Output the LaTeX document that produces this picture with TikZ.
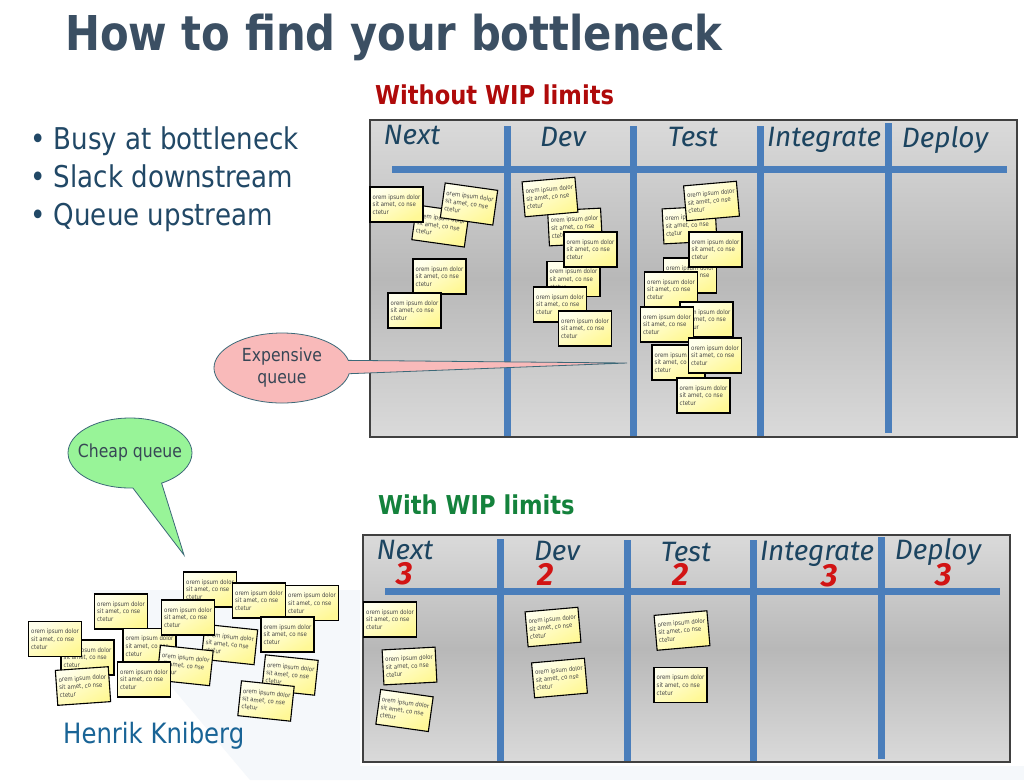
\documentclass[tikz,border=0pt]{standalone}
\usepackage{fontspec}
\usetikzlibrary{shapes.callouts,shapes.geometric}

\newfontfamily\tahoma{DejaVu Sans}[FakeStretch=0.87]
\newfontfamily\hand{Fira Sans}

\definecolor{titlegray}{RGB}{59,79,99}
\definecolor{bulletblue}{RGB}{33,72,102}
\definecolor{authorblue}{RGB}{25,100,150}
\definecolor{withoutred}{RGB}{175,10,10}
\definecolor{withgreen}{RGB}{20,130,60}
\definecolor{boardlight}{RGB}{218,218,218}
\definecolor{boarddark}{RGB}{184,184,184}
\definecolor{lineblue}{RGB}{74,126,187}
\definecolor{headblue}{RGB}{28,68,96}
\definecolor{limitred}{RGB}{210,20,20}
\definecolor{notelight}{RGB}{255,255,236}
\definecolor{notedark}{RGB}{255,248,150}
\definecolor{notetext}{RGB}{70,70,70}
\definecolor{pinkq}{RGB}{249,186,186}
\definecolor{greenq}{RGB}{152,244,152}
\definecolor{calloutedge}{RGB}{60,105,120}
\definecolor{callouttext}{RGB}{55,70,85}
\definecolor{swoosh}{RGB}{245,248,251}

\newcommand{\loremtxt}{orem ipsum dolor\\sit amet, co nse\\ctetur}

\tikzset{
  note/.style={draw=black, line width=1.1pt, top color=notelight, bottom color=notedark,
    shading angle=30, minimum width=53pt, minimum height=35pt,
    inner sep=2.5pt, align=left, font=\tahoma\fontsize{6.2}{7.8}\selectfont, text=notetext},
  board/.style={top color=boardlight, bottom color=boardlight, middle color=boarddark},
  boardedge/.style={draw=black!75, line width=1.2pt},
  lane/.style={lineblue, line width=7pt},
  colhead/.style={font=\hand\itshape\fontsize{28}{28}\selectfont, text=headblue, inner sep=0pt},
  limit/.style={font=\hand\bfseries\itshape\fontsize{32}{32}\selectfont, text=limitred, inner sep=0pt},
  bubble/.style={ellipse callout, draw=calloutedge, line width=0.8pt, minimum width=136pt,
    minimum height=70pt, inner sep=0pt, align=center,
    font=\tahoma\fontsize{18}{22}\selectfont, text=callouttext},
  bullet/.style={anchor=base west, inner sep=0pt, font=\tahoma\fontsize{30}{30}\selectfont, text=bulletblue},
}

\begin{document}
\begin{tikzpicture}[x=1pt, y=-1pt]

% Page and background
\fill[white] (0,0) rectangle (1024,780);
\useasboundingbox (0,0) rectangle (1024,780);
\fill[swoosh] (90,590) -- (360,590) -- (360,780) -- (250,780) -- cycle;
\fill[swoosh] (360,766) rectangle (1024,780);

% Title and bullets
\node[anchor=base west, inner sep=0pt, font=\tahoma\bfseries\fontsize{48}{48}\selectfont, text=titlegray]
  (title) at (65,50) {How to find your bottleneck};
\node[bullet] (busy) at (30,149) {• Busy at bottleneck};
\node[bullet] (slack) at (30,187) {• Slack downstream};
\node[bullet] (queue) at (30,225) {• Queue upstream};

% Board without WIP limits
\node[anchor=base west, inner sep=0pt, font=\tahoma\bfseries\fontsize{26}{26}\selectfont, text=withoutred]
  (without) at (375,104) {Without WIP limits};
\path[board] (370,120) rectangle (1017,437);
\draw[lane] (392,169) -- (1007,169);
\draw[lane] (507,126) -- (507,437);
\draw[lane] (633,126) -- (633,437);
\draw[lane] (760,126) -- (760,437);
\draw[lane] (888,123) -- (888,433);
\draw[boardedge] (370,120) rectangle (1017,437);

\node[colhead] (tnext) at (412,135) {Next};
\node[colhead] (tdev) at (563,137) {Dev};
\node[colhead] (ttest) at (693,137) {Test};
\node[colhead] (tint) at (824,140) {Integrate};
\node[colhead] (tdep) at (945,140) {Deploy};

% Next column
\node[note, rotate=-8] (t2) at (440.5,226) {\loremtxt};
\node[note] (t1) at (396.5,204.5) {\loremtxt};
\node[note, rotate=-8] (t3) at (469,204) {\loremtxt};
\node[note] (t4) at (439.5,276.5) {\loremtxt};
\node[note] (t5) at (414.5,310.5) {\loremtxt};
% Dev column
\node[note, rotate=3] (t7) at (575,227) {\loremtxt};
\node[note, rotate=5] (t6) at (550,197) {\loremtxt};
\node[note] (t9) at (573.5,279) {\loremtxt};
\node[note] (t8) at (590.5,249.5) {\loremtxt};
\node[note] (t10) at (560,304.5) {\loremtxt};
\node[note] (t11) at (585,328.5) {\loremtxt};
% Test column
\node[note, rotate=3] (t13) at (689.5,225) {\loremtxt};
\node[note, rotate=5] (t12) at (711.5,201) {\loremtxt};
\node[note] (t15) at (690,275.5) {\loremtxt};
\node[note] (t14) at (715.5,249.5) {\loremtxt};
\node[note] (t16) at (671,289.5) {\loremtxt};
\node[note] (t17) at (706.5,319.5) {\loremtxt};
\node[note] (t18) at (667,324.5) {\loremtxt};
\node[note] (t19) at (678.5,362.5) {\loremtxt};
\node[note] (t20) at (715,355.5) {\loremtxt};
\node[note] (t21) at (703.5,395.5) {\loremtxt};

% Board with WIP limits
\node[anchor=base west, inner sep=0pt, font=\tahoma\bfseries\fontsize{26}{26}\selectfont, text=withgreen]
  (with) at (378,514) {With WIP limits};
\path[board] (363,535) rectangle (1010,762);
\draw[lane] (385,591) -- (1000,591);
\draw[lane] (500,539) -- (500,762);
\draw[lane] (627,540) -- (627,762);
\draw[lane] (753,540) -- (753,762);
\draw[lane] (881,537) -- (881,759);
\draw[boardedge] (363,535) rectangle (1010,762);

\node[colhead] (bnext) at (405,550) {Next};
\node[colhead] (bdev) at (557,551) {Dev};
\node[colhead] (btest) at (686,552) {Test};
\node[colhead] (bint) at (817,554) {Integrate};
\node[colhead] (bdep) at (938,552) {Deploy};
\node[limit] (lnext) at (405,574) {3};
\node[limit] (ldev) at (546,574) {2};
\node[limit] (ltest) at (681,574) {2};
\node[limit] (lint) at (830,576) {3};
\node[limit] (ldep) at (944,575) {3};

\node[note] (b1) at (390,619.5) {\loremtxt};
\node[note, rotate=3] (b2) at (409.5,666) {\loremtxt};
\node[note, rotate=-8] (b3) at (404.5,710.5) {\loremtxt};
\node[note, rotate=5] (b4) at (553,627) {\loremtxt};
\node[note, rotate=5] (b5) at (559.5,678) {\loremtxt};
\node[note, rotate=5] (b6) at (682,630.5) {\loremtxt};
\node[note] (b7) at (680.5,685) {\loremtxt};

% Pile of cards
\node[note] (pd) at (121,611.5) {\loremtxt};
\node[note] (pa) at (210,589.5) {\loremtxt};
\node[note] (ph) at (149.5,646) {\loremtxt};
\node[note, rotate=-6] (pi) at (229.5,644.5) {\loremtxt};
\node[note] (pe) at (188,617.5) {\loremtxt};
\node[note, rotate=-6] (pl) at (185,665.5) {\loremtxt};
\node[note] (pb) at (259,600.5) {\loremtxt};
\node[note] (pc) at (312,603) {\loremtxt};
\node[note] (pf) at (287.5,634.5) {\loremtxt};
\node[note] (pj) at (87.5,657.5) {\loremtxt};
\node[note] (pg) at (55,639) {\loremtxt};
\node[note] (pk) at (144,679.5) {\loremtxt};
\node[note, rotate=4] (pm) at (83,686) {\loremtxt};
\node[note, rotate=-6] (pn) at (290,675) {\loremtxt};
\node[note, rotate=-6] (po) at (266,701) {\loremtxt};

\node[anchor=base west, inner sep=0pt, font=\tahoma\fontsize{28}{28}\selectfont, text=authorblue]
  (author) at (63,743) {Henrik Kniberg};

% Callouts
\coordinate (exptip) at (627,363);
\coordinate (cheaptip) at (184,555);
\node[bubble, fill=pinkq, callout absolute pointer=(exptip), callout pointer arc=22]
  (expq) at (282,368) {Expensive\\queue};
\node[bubble, fill=greenq, minimum width=124pt, inner xsep=-10pt,
  callout absolute pointer=(cheaptip), callout pointer arc=28]
  (cheapq) at (130,453) {Cheap queue};

\end{tikzpicture}
\end{document}
